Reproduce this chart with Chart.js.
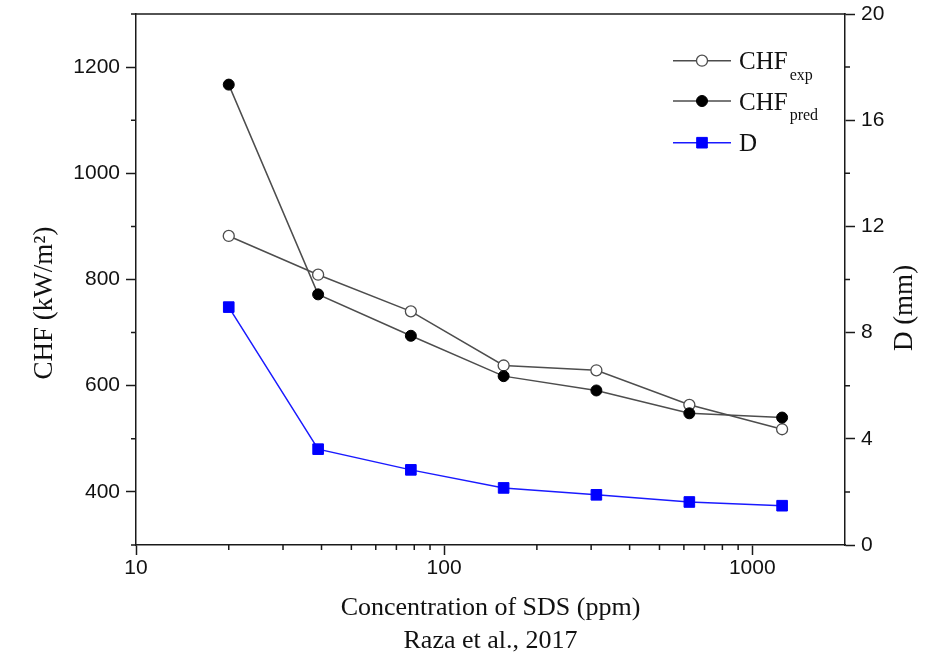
<!DOCTYPE html>
<html><head><meta charset="utf-8">
<script src="https://cdn.jsdelivr.net/npm/chart.js@4.4.0/dist/chart.umd.min.js"></script>
<style>html,body{margin:0;padding:0;background:#fff}#wrap{width:929px;height:660px;position:relative}</style>
</head><body><div id="wrap"><canvas id="c" width="929" height="660"></canvas></div>
<script>
// ---- data ----
const concentration = [20, 39, 78, 156, 312, 625, 1250];
const chfExp = [882, 809, 740, 638, 629, 564, 518];
const chfPred = [1167, 772, 694, 618, 591, 548, 540];
const diameter = [8.96, 3.61, 2.83, 2.15, 1.89, 1.62, 1.48];
const seriesNames = ['CHF', 'CHF', 'D'];
const seriesSubscripts = ['exp', 'pred', ''];
const xTicks = [10, 100, 1000];
const xMinorTicks = [20, 30, 40, 50, 60, 70, 80, 90, 200, 300, 400, 500, 600, 700, 800, 900];
const chfTicks = [400, 600, 800, 1000, 1200];
const chfMinorTicks = [300, 500, 700, 900, 1100, 1300];
const dTicks = [0, 4, 8, 12, 16, 20];
const dMinorTicks = [2, 6, 10, 14, 18];
const xTitle = ['Concentration of SDS (ppm)', 'Raza et al., 2017'];
const yTitle = 'CHF (kW/m\u00B2)';
const y1Title = 'D (mm)';

const SERIF = '"Liberation Serif", "Times New Roman", serif';
const SANS = '"Liberation Sans", Arial, sans-serif';
const AX = '#1a1a1a';

const pts = (ys) => concentration.map((x, i) => ({x, y: ys[i]}));

const extras = {
  id: 'extras',
  afterDraw(chart) {
    const {ctx, chartArea: a, scales} = chart;
    ctx.save();
    ctx.strokeStyle = AX; ctx.lineWidth = 1.5;
    // top border
    ctx.beginPath(); ctx.moveTo(a.left - 0.75, a.top); ctx.lineTo(a.right + 0.75, a.top); ctx.stroke();
    // minor ticks
    ctx.beginPath();
    xMinorTicks.forEach(v => { const px = scales.x.getPixelForValue(v); ctx.moveTo(px, a.bottom); ctx.lineTo(px, a.bottom + 5); });
    chfMinorTicks.forEach(v => { const py = scales.y.getPixelForValue(v); ctx.moveTo(a.left, py); ctx.lineTo(a.left - 5, py); });
    dMinorTicks.forEach(v => { const py = scales.y1.getPixelForValue(v); ctx.moveTo(a.right, py); ctx.lineTo(a.right + 5, py); });
    ctx.stroke();
    // vertical axis titles (both read bottom-to-top)
    ctx.fillStyle = '#111';
    ctx.font = '27px ' + SERIF;
    ctx.textAlign = 'center'; ctx.textBaseline = 'middle';
    ctx.save();
    ctx.translate(45, 303);
    ctx.rotate(-Math.PI / 2);
    ctx.fillText(yTitle, 0, 0);
    ctx.restore();
    ctx.save();
    ctx.translate(905, 308);
    ctx.rotate(-Math.PI / 2);
    ctx.fillText(y1Title, 0, 0);
    ctx.restore();
    ctx.restore();

    // legend
    ctx.save();
    const ds = chart.data.datasets;
    const rowY = [60.7, 101, 142.7];
    ds.forEach((d, i) => {
      const y = rowY[i];
      ctx.strokeStyle = d.borderColor; ctx.lineWidth = d.borderWidth;
      ctx.beginPath(); ctx.moveTo(673, y); ctx.lineTo(731, y); ctx.stroke();
      ctx.fillStyle = d.pointBackgroundColor; ctx.strokeStyle = d.pointBorderColor; ctx.lineWidth = d.pointBorderWidth;
      if (d.pointStyle === 'rect') {
        const s = d.pointRadius * Math.SQRT1_2;
        ctx.beginPath(); ctx.rect(702 - s, y - s, 2 * s, 2 * s); ctx.fill(); ctx.stroke();
      } else {
        ctx.beginPath(); ctx.arc(702, y, d.pointRadius, 0, Math.PI * 2); ctx.fill(); ctx.stroke();
      }
      ctx.fillStyle = '#111';
      ctx.textAlign = 'left'; ctx.textBaseline = 'alphabetic';
      ctx.font = '25px ' + SERIF;
      ctx.fillText(seriesNames[i], 739, y + 8.5);
      const w = ctx.measureText(seriesNames[i]).width;
      if (seriesSubscripts[i]) {
        ctx.font = '16px ' + SERIF;
        ctx.fillText(seriesSubscripts[i], 739 + w + 2, y + 19);
      }
    });
    ctx.restore();
  }
};

new Chart(document.getElementById('c'), {
  type: 'line',
  data: {
    datasets: [
      { label: 'CHF exp', data: pts(chfExp), yAxisID: 'y', order: 1,
        borderColor: '#4d4d4d', borderWidth: 1.5, tension: 0,
        pointStyle: 'circle', pointRadius: 5.5, pointBorderWidth: 1.3,
        pointBackgroundColor: '#ffffff', pointBorderColor: '#4d4d4d' },
      { label: 'CHF pred', data: pts(chfPred), yAxisID: 'y', order: 0,
        borderColor: '#4d4d4d', borderWidth: 1.5, tension: 0,
        pointStyle: 'circle', pointRadius: 5.5, pointBorderWidth: 1,
        pointBackgroundColor: '#000000', pointBorderColor: '#000000' },
      { label: 'D', data: pts(diameter), yAxisID: 'y1', order: 2,
        borderColor: '#1a1aff', borderWidth: 1.5, tension: 0,
        pointStyle: 'rect', pointRadius: 7.5, pointBorderWidth: 1,
        pointBackgroundColor: '#0000ff', pointBorderColor: '#0000ff' }
    ]
  },
  options: {
    responsive: false, animation: false, devicePixelRatio: 1,
    layout: { padding: { top: 14, left: 0, right: 0, bottom: 0 } },
    plugins: { legend: { display: false }, tooltip: { enabled: false } },
    scales: {
      x: {
        type: 'logarithmic', position: 'bottom', min: 10, max: 2000,
        afterBuildTicks: s => { s.ticks = xTicks.map(v => ({ value: v })); },
        afterFit: s => { s.height = 115; },
        ticks: { callback: v => String(v), color: '#111', font: { family: SANS, size: 21 }, padding: 1, maxRotation: 0, autoSkip: false },
        grid: { drawOnChartArea: false, drawTicks: true, tickLength: 10, tickColor: AX, tickWidth: 1.5 },
        border: { display: true, color: AX, width: 1.5 },
        title: { display: true, text: xTitle, color: '#111', font: { family: SERIF, size: 26, lineHeight: 1.27 }, padding: { top: 0, bottom: 2.5 } }
      },
      y: {
        position: 'left', min: 300, max: 1300,
        afterBuildTicks: s => { s.ticks = chfTicks.map(v => ({ value: v })); },
        afterFit: s => { s.width = 136; s.paddingTop = 0; s.paddingBottom = 0; },
        ticks: { callback: v => String(v), color: '#111', font: { family: SANS, size: 21 }, padding: 6 },
        grid: { drawOnChartArea: false, drawTicks: true, tickLength: 10, tickColor: AX, tickWidth: 1.5 },
        border: { display: true, color: AX, width: 1.5 }
      },
      y1: {
        position: 'right', min: 0, max: 20,
        afterBuildTicks: s => { s.ticks = dTicks.map(v => ({ value: v })); },
        afterFit: s => { s.width = 84; s.paddingTop = 0; s.paddingBottom = 0; },
        ticks: { callback: v => String(v), color: '#111', font: { family: SANS, size: 21 }, padding: 6 },
        grid: { drawOnChartArea: false, drawTicks: true, tickLength: 10, tickColor: AX, tickWidth: 1.5 },
        border: { display: true, color: AX, width: 1.5 }
      }
    }
  },
  plugins: [extras]
});
</script></body></html>
